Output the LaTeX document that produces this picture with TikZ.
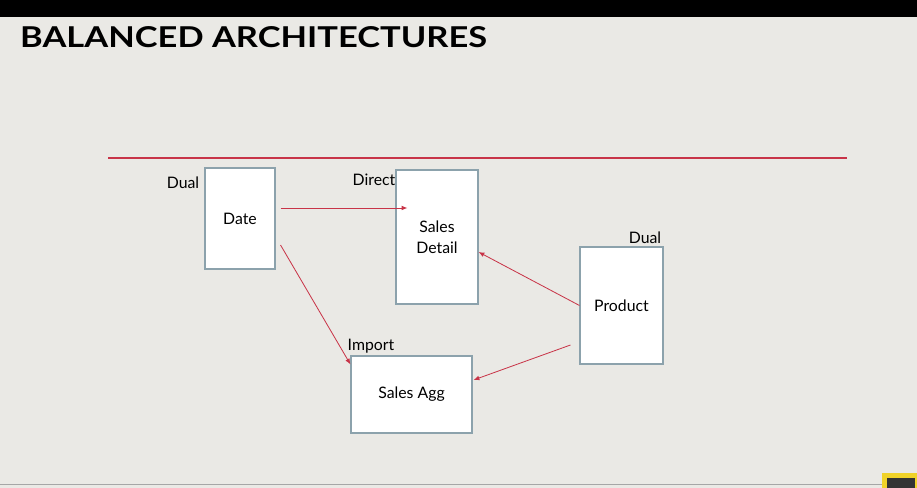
\documentclass[tikz,border=0pt]{standalone}
\usepackage{fontspec}
\setmainfont{Lato}
\usetikzlibrary{arrows.meta}
\definecolor{slidebg}{RGB}{234,233,229}
\definecolor{accent}{RGB}{200,52,72}
\definecolor{boxline}{RGB}{140,162,172}
\definecolor{logoyellow}{RGB}{240,210,40}

\begin{document}
\begin{tikzpicture}[x=0.03cm,y=-0.03cm,
    tbl/.style={draw=boxline,fill=white,line width=0.9pt,align=center,inner sep=0pt,
      font=\fontsize{13.5}{18}\selectfont},
    mode/.style={inner sep=0pt,font=\fontsize{13.5}{16}\selectfont},
    link/.style={draw=accent,line width=0.7pt,-{Latex[length=5pt,width=4pt]}}]
  % slide background
  \useasboundingbox (0,0) rectangle (917,488);
  \fill[slidebg] (0,0) rectangle (917,488);
  \fill[black] (0,0) rectangle (917,17);
  \draw[gray!70,line width=0.8pt] (0,484) -- (917,484);
  \fill[logoyellow] (882,473) rectangle (917,488);
  \fill[black!80] (887,478) rectangle (915,488);
  % title and rule
  \node[anchor=west,inner sep=0pt,font=\fontsize{24.5}{28}\bfseries\selectfont] (title) at (20,37) {\scalebox{1.2}[1]{BALANCED ARCHITECTURES}};
  \draw[accent,line width=1.6pt] (108,158) -- (847,158);
  % tables
  \node[tbl,minimum width=2.1cm,minimum height=3.03cm] (date) at (240,218.5) {Date};
  \node[tbl,minimum width=2.46cm,minimum height=4.02cm] (detail) at (437,237) {Sales\\Detail};
  \node[tbl,minimum width=2.49cm,minimum height=3.51cm] (product) at (621.5,305.5) {Product};
  \node[tbl,minimum width=3.63cm,minimum height=2.31cm] (agg) at (411.5,394.5) {Sales Agg};
  % storage modes
  \node[mode] (datemode) at (183,183) {Dual};
  \node[mode] (detailmode) at (374,180) {Direct};
  \node[mode] (productmode) at (645,238) {Dual};
  \node[mode] (aggmode) at (371,346) {Import};
  % relationships
  \draw[link] ([shift={(5,-10.5)}]date.east) -- ([shift={(12,-29)}]detail.west);
  \draw[link] ([shift={(5,26.5)}]date.east) -- ([shift={(0,9)}]agg.north west);
  \draw[link] (product.west) -- ([shift={(0,15)}]detail.east);
  \draw[link] ([shift={(-9,39.5)}]product.west) -- ([shift={(1,-14.5)}]agg.east);
\end{tikzpicture}
\end{document}
